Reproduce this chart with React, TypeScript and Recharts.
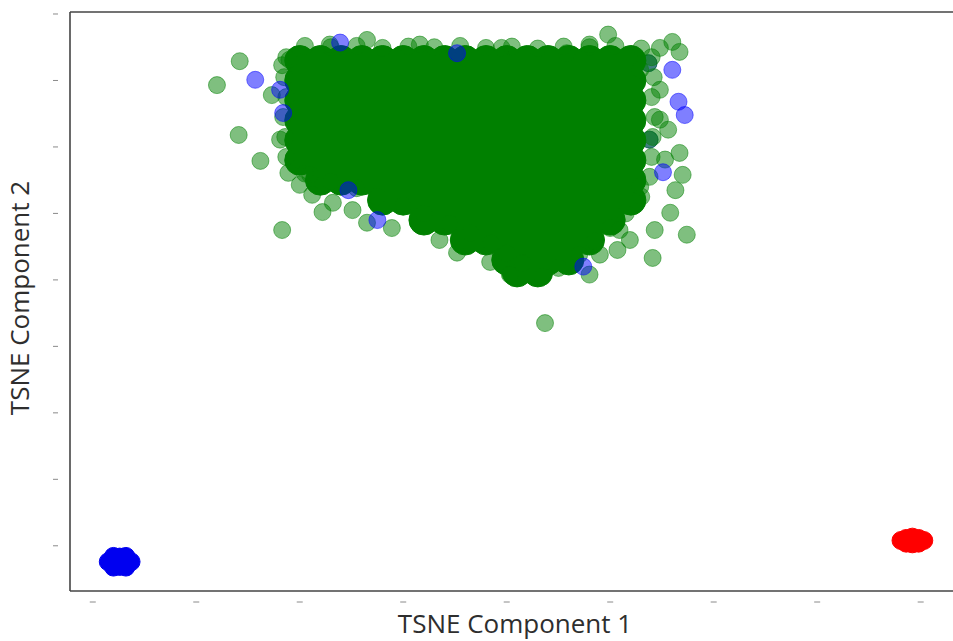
import React from 'react';
import { ScatterChart, Scatter, XAxis, YAxis, ReferenceLine, Label } from 'recharts';

// tick positions (the original plot hides the tick labels)
const xTicks = [0, 100, 200, 300, 400, 500, 600, 700, 800];
const yTicks = [0, 100, 200, 300, 400, 500, 600, 700, 800];

// dense green cloud: rows of [y, x values]
const greenCoreRows: [number, number[]][] = [
  [730, [200, 220, 240, 260, 280, 300, 320, 340, 360, 380, 400, 420, 440, 460, 480, 500, 520]],
  [700, [200, 220, 240, 260, 280, 300, 320, 340, 360, 380, 400, 420, 440, 460, 480, 500, 520]],
  [670, [200, 220, 240, 260, 280, 300, 320, 340, 360, 380, 400, 420, 440, 460, 480, 500, 520]],
  [640, [200, 220, 240, 260, 280, 300, 320, 340, 360, 380, 400, 420, 440, 460, 480, 500, 520]],
  [610, [200, 220, 240, 260, 280, 300, 320, 340, 360, 380, 400, 420, 440, 460, 480, 500, 520]],
  [580, [200, 220, 240, 260, 280, 300, 320, 340, 360, 380, 400, 420, 440, 460, 480, 500, 520]],
  [550, [220, 240, 260, 280, 300, 320, 340, 360, 380, 400, 420, 440, 460, 480, 500, 520]],
  [520, [280, 300, 320, 340, 360, 380, 400, 420, 440, 460, 480, 500, 520]],
  [490, [320, 340, 360, 380, 400, 420, 440, 460, 480, 500]],
  [460, [360, 380, 400, 420, 440, 460, 480]],
  [430, [400, 420, 440, 460]],
  [412, [410, 430]],
];

// semi-transparent points along the rim of the cloud
const greenRim: [number, number][] = [
  [205, 752], [230, 750], [255, 752], [280, 749], [305, 751], [330, 750], [355, 752],
  [380, 749], [405, 751], [430, 748], [455, 751], [480, 750], [505, 752], [530, 748],
  [187, 735], [185, 705], [187, 675], [184, 645], [186, 615], [187, 585],
  [205, 560], [230, 548], [255, 538], [275, 525], [300, 512], [320, 500], [345, 485],
  [365, 470], [385, 455], [400, 440], [415, 425],
  [540, 735], [542, 705], [540, 675], [543, 645], [541, 615], [540, 585], [538, 555],
  [530, 525], [515, 500], [500, 478], [485, 458], [470, 438], [450, 418], [435, 405],
];

// loose green points around the cloud
const greenOutliers: [number, number][] = [
  [142, 729], [120, 693], [141, 618], [162, 579], [189, 561], [212, 528], [222, 502],
  [183, 475], [232, 516], [251, 505], [265, 486], [289, 478], [335, 460], [352, 441],
  [183, 723], [173, 678], [210, 558], [265, 761], [498, 769], [560, 758], [548, 749],
  [567, 743], [480, 754], [395, 749], [458, 741], [556, 626], [567, 591], [570, 558],
  [558, 501], [574, 468], [541, 433], [507, 445], [480, 408], [384, 427], [437, 335],
  [529, 540], [548, 641], [548, 686], [563, 535], [543, 475], [519, 460], [490, 438],
  [403, 408], [190, 731], [181, 611], [200, 543], [229, 754], [316, 754], [529, 716],
  [509, 475], [553, 581], [537, 726], [538, 611],
];

// blue points hidden under green ones
const blueUnder: [number, number][] = [[537, 726], [538, 611]];

// blue points mixed into the green cloud
const blueOutliers: [number, number][] = [
  [157, 701], [181, 686], [184, 651], [239, 757], [352, 741], [247, 535], [275, 490],
  [560, 716], [566, 668], [572, 648], [551, 562], [474, 420],
];

// tight clusters
const blueCluster: [number, number][] = [
  [15, -24], [37, -24], [20, -16], [32, -16], [20, -32], [32, -32], [26, -17], [26, -31], [26, -24],
];
const redCluster: [number, number][] = [
  [781, 8], [792, 13], [792, 3], [803, 8], [786, 11], [798, 11], [786, 4], [798, 4], [792, 8],
];

const toXY = (pairs: [number, number][]) => pairs.map(([x, y]) => ({ x, y }));
const coreData = greenCoreRows.flatMap(([y, xs]) => xs.map((x) => ({ x, y })));

const makeDot = (r: number, color: string, opacity: number) => (props: any) => (
  <circle
    cx={props.cx}
    cy={props.cy}
    r={r}
    fill={color}
    fillOpacity={opacity}
    stroke={color}
    strokeOpacity={opacity}
    strokeWidth={1}
  />
);

const XTick = (props: any) => (
  <line x1={props.x - 3} x2={props.x + 3} y1={602} y2={602} stroke="#8a8a8a" strokeWidth={1} />
);
const YTick = (props: any) => (
  <line x1={53} x2={58} y1={props.y} y2={props.y} stroke="#8a8a8a" strokeWidth={1} />
);

const labelFont = "'Open Sans', sans-serif";

export default function App() {
  return (
    <div
      style={{
        position: 'fixed',
        left: 0,
        top: 0,
        width: 953,
        height: 641,
        overflow: 'hidden',
        background: '#fff',
      }}
    >
      <ScatterChart width={970} height={641} margin={{ top: 12, right: 10, bottom: 0, left: 0 }}>
        <XAxis
          type="number"
          dataKey="x"
          domain={[-22, 838]}
          ticks={xTicks}
          interval={0}
          height={50}
          tickLine={false}
          tick={XTick}
          axisLine={{ stroke: '#444', strokeWidth: 1.6 }}
        >
          <Label
            content={(p: any) => (
              <text
                x={p.viewBox.x + p.viewBox.width / 2}
                y={633}
                textAnchor="middle"
                fontFamily={labelFont}
                fontSize={26}
                fill="#2e2e2e"
              >
                TSNE Component 1
              </text>
            )}
          />
        </XAxis>
        <YAxis
          type="number"
          dataKey="y"
          domain={[-68, 803]}
          ticks={yTicks}
          interval={0}
          width={70}
          tickLine={false}
          tick={YTick}
          axisLine={{ stroke: '#444', strokeWidth: 1.6 }}
        >
          <Label
            content={() => (
              <text
                x={29}
                y={298}
                transform="rotate(-90, 29, 298)"
                textAnchor="middle"
                fontFamily={labelFont}
                fontSize={26}
                fill="#2e2e2e"
              >
                TSNE Component 2
              </text>
            )}
          />
        </YAxis>
        <ReferenceLine y={803} stroke="#444" strokeWidth={1.6} />
        <ReferenceLine x={838} stroke="#444" strokeWidth={1.6} />
        <Scatter data={toXY(blueUnder)} fill="#0000ff" shape={makeDot(8.5, '#0000ff', 0.5)} isAnimationActive={false} />
        <Scatter data={coreData} fill="#008000" shape={makeDot(15, '#008000', 1)} isAnimationActive={false} />
        <Scatter data={toXY(greenRim)} fill="#008000" shape={makeDot(8.5, '#008000', 0.5)} isAnimationActive={false} />
        <Scatter data={toXY(greenOutliers)} fill="#008000" shape={makeDot(8.5, '#008000', 0.5)} isAnimationActive={false} />
        <Scatter data={toXY(blueOutliers)} fill="#0000ff" shape={makeDot(8.5, '#0000ff', 0.5)} isAnimationActive={false} />
        <Scatter data={toXY(blueCluster)} fill="#0000ff" shape={makeDot(9, '#0000f0', 1)} isAnimationActive={false} />
        <Scatter data={toXY(redCluster)} fill="#ff0000" shape={makeDot(9, '#ff0000', 1)} isAnimationActive={false} />
      </ScatterChart>
    </div>
  );
}
